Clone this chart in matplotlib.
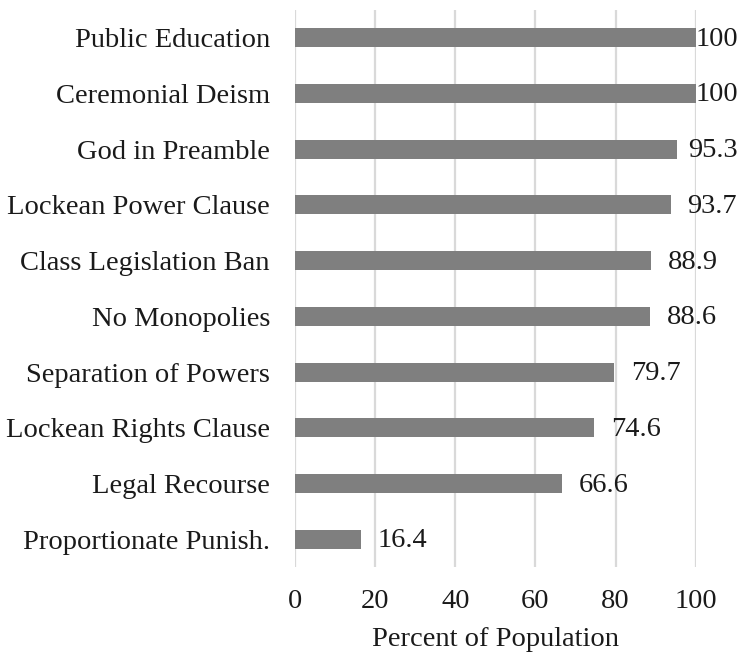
import matplotlib

matplotlib.use("Agg")
import matplotlib.pyplot as plt

categories = [
    "Public Education",
    "Ceremonial Deism",
    "God in Preamble",
    "Lockean Power Clause",
    "Class Legislation Ban",
    "No Monopolies",
    "Separation of Powers",
    "Lockean Rights Clause",
    "Legal Recourse",
    "Proportionate Punish.",
]
percent = [100, 100, 95.3, 93.7, 88.9, 88.6, 79.7, 74.6, 66.6, 16.4]
xticks = [0, 20, 40, 60, 80, 100]

plt.rcParams.update(
    {
        "font.family": ["Liberation Serif", "DejaVu Serif"],
        "font.size": 20.5,
    }
)

fig = plt.figure(figsize=(7.41, 6.52), dpi=100)
ax = fig.add_axes([0.398, 0.130, 0.541, 0.855])

pos = list(range(len(categories)))
ax.barh(pos, percent, height=0.34, color="#7f7f7f", zorder=2)

ax.set_xlim(0, 100)
ax.set_ylim(len(categories) - 0.5, -0.5)
ax.set_xticks(xticks)
ax.set_yticks(pos)
ax.set_yticklabels(categories)
ax.tick_params(axis="both", length=0, colors="#1a1a1a")
ax.tick_params(axis="y", pad=18)
ax.tick_params(axis="x", pad=16)
ax.set_xlabel("Percent of Population", labelpad=9, color="#1a1a1a")

ax.grid(axis="x", color="#d9d9d9", linewidth=1.6, zorder=0)
ax.set_axisbelow(True)
for s in ax.spines.values():
    s.set_visible(False)

# value labels, pulled back inside the figure when they would run off the edge
fig.canvas.draw()
renderer = fig.canvas.get_renderer()
fig_w = fig.bbox.width
for y, v in zip(pos, percent):
    t = ax.annotate(
        f"{v:g}",
        xy=(v, y),
        xytext=(12, -1),
        textcoords="offset points",
        va="center",
        ha="left",
        color="#1a1a1a",
        zorder=3,
        annotation_clip=False,
    )
    bb = t.get_window_extent(renderer)
    over = bb.x1 - (fig_w - 3)
    if over > 0:
        t.set_position((12 - over * 72 / fig.dpi, -1))

fig.savefig("out.png", dpi=100)
